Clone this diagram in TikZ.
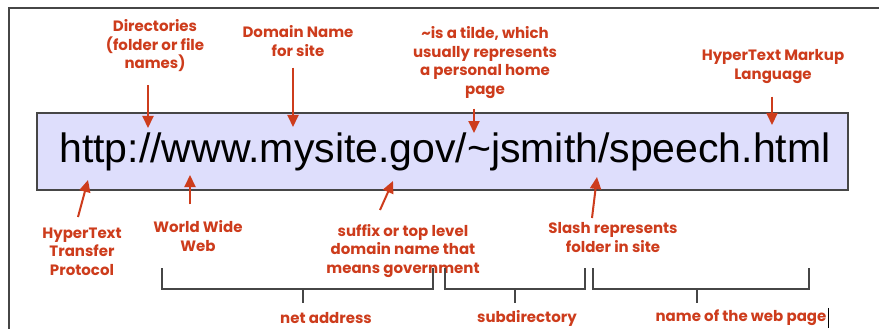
\documentclass[tikz,border=0pt]{standalone}
\usepackage{fontspec}
\setmainfont{Liberation Sans}
\newfontfamily\labelfont{Poppins}
\usetikzlibrary{arrows.meta, positioning}

\definecolor{urlred}{RGB}{205,60,28}
\definecolor{urlblue}{RGB}{222,222,252}
\definecolor{edgegray}{RGB}{70,70,70}

\tikzset{
  note/.style={text=urlred, font=\labelfont\bfseries\fontsize{15}{18.5}\selectfont,
    align=center, inner sep=0pt},
  pointer/.style={draw=urlred, line width=2pt, -{Triangle[length=12pt,width=11pt]}},
  brace/.style={draw=edgegray, line width=1.5pt},
  urlbox/.style={draw=edgegray, line width=1.2pt, fill=urlblue, inner sep=0pt,
    minimum width=811pt, minimum height=77pt,
    font=\fontsize{41}{41}\selectfont},
}

\begin{document}
\begin{tikzpicture}[x=1pt, y=-1pt]
  \useasboundingbox (0,0) rectangle (879,329);
  \draw[edgegray, line width=1.5pt] (879,8) -- (9,8) -- (9,329);

  % the address itself
  \node[urlbox] (url) at (442.5,151.5) {\hspace{5pt}http://www.mysite.gov/\char`\~jsmith/speech.html};

  % labels above
  \node[note] (dir) at (155,46) {Directories\\(folder or file\\names)};
  \node[note] (dom) at (298,41) {Domain Name\\for site};
  \node[note] (tilde) at (485,62.5) {\char`\~is a tilde, which\\usually represents\\a personal home\\page};
  \node[note] (html) at (773,66.5) {HyperText Markup\\Language};

  % labels below
  \node[note] (http) at (82,251.5) {HyperText\\Transfer\\Protocol};
  \node[note] (www) at (198,236) {World Wide\\Web};
  \node[note] (suffix) at (403,251) {suffix or top level\\domain name that\\means government};
  \node[note] (slash) at (613,237.5) {Slash represents\\folder in site};

  % arrow tips
  \coordinate (dirtip) at (148,128);
  \coordinate (domtip) at (293,127);
  \coordinate (tildetip) at (474,133);
  \coordinate (htmltip) at (772,125);
  \coordinate (httptip) at (88,180);
  \coordinate (wwwtip) at (190,175);
  \coordinate (suffixtip) at (393,181);
  \coordinate (slashtip) at (597,177);

  \draw[pointer] (dir.south -| dirtip) ++(0,13) -- (dirtip);
  \draw[pointer] (dom.south -| domtip) ++(0,11) -- (domtip);
  \draw[pointer] (tilde.south -| tildetip) ++(0,10) -- (tildetip);
  \draw[pointer] (html.south -| htmltip) ++(0,13) -- (htmltip);
  \draw[pointer] (78,217) -- (httptip);
  \draw[pointer] (wwwtip |- www.north) ++(0,-16) -- (wwwtip);
  \draw[pointer] (380,210) -- (suffixtip);
  \draw[pointer] (592,218) -- (slashtip);

  % brackets
  \coordinate (netmid) at (303,289);
  \coordinate (submid) at (515,289);
  \coordinate (pagemid) at (697,289);
  \draw[brace] (162,268) |- (433,289) -- (433,268);
  \draw[brace] (445,268) |- (585,289) -- (585,268);
  \draw[brace] (593,268) |- (809,289) -- (809,268);
  \draw[brace] (netmid) -- ++(0,14);
  \draw[brace] (submid) -- ++(0,14);
  \draw[brace] (pagemid) -- ++(0,14);

  \node[note] (net) at (326,318) {net address};
  \node[note] (sub) at (527,318) {subdirectory};
  \node[note] (page) at (741,318) {name of the web page};
  \draw[black, line width=0.8pt] (page.north east) ++(2,-2) -- ++(0,20);
\end{tikzpicture}
\end{document}
